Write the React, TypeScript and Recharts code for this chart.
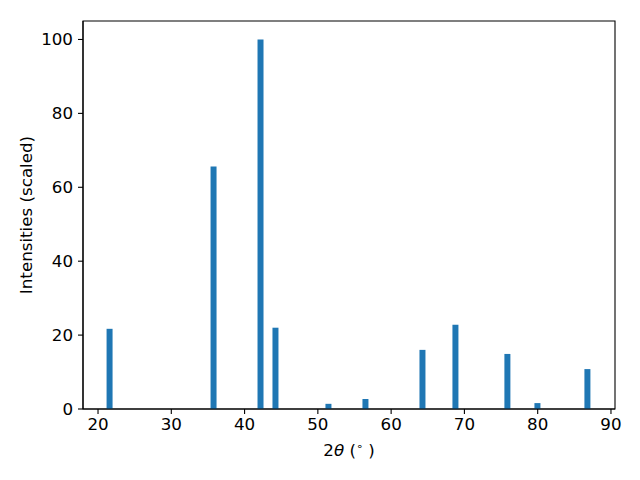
import { Bar, BarChart, ReferenceArea, XAxis, YAxis } from "recharts";

// peak positions (2θ, degrees) and scaled intensities
const twoTheta = [21.64, 35.83, 42.24, 44.28, 51.51, 56.56, 64.34, 68.84, 75.93, 80.03, 86.85];
const intensity = [21.7, 65.6, 100, 22.0, 1.4, 2.7, 16.0, 22.8, 14.9, 1.6, 10.8];

const xTicks = [20, 30, 40, 50, 60, 70, 80, 90];
const yTicks = [0, 20, 40, 60, 80, 100];

const xDomain: [number, number] = [17.95, 90.55];
const yDomain: [number, number] = [0, 105];

const font = "DejaVu Sans, Liberation Sans, sans-serif";
const fs = 16.7;
const tickStyle = { fill: "#000", fontSize: fs, fontFamily: font };
const axisLine = { stroke: "#000", strokeWidth: 1.1 };
const tickLine = { stroke: "#000", strokeWidth: 1.1 };

const peaks = twoTheta.map((x, i) => ({ x, y: intensity[i] }));

function XLabel(props: any) {
  const vb = props.viewBox || {};
  const cx = vb.x + vb.width / 2;
  const cy = vb.y + 47;
  return (
    <text x={cx} y={cy} textAnchor="middle" fill="#000" fontSize={fs} fontFamily={font}>
      <tspan>2</tspan>
      <tspan fontStyle="italic">θ</tspan>
      <tspan> (</tspan>
      <tspan dy={-6} fontSize={11}>∘</tspan>
      <tspan dy={6}> )</tspan>
    </text>
  );
}

function YLabel(props: any) {
  const vb = props.viewBox || {};
  const cx = vb.x + 26;
  const cy = vb.y + vb.height / 2;
  return (
    <text
      x={cx}
      y={cy}
      textAnchor="middle"
      dominantBaseline="central"
      transform={`rotate(-90 ${cx} ${cy})`}
      fill="#000"
      fontSize={fs}
      fontFamily={font}
    >
      Intensities (scaled)
    </text>
  );
}

export default function App() {
  return (
    <div style={{ position: "absolute", left: 0, top: 0, background: "#fff" }}>
      <BarChart
        width={640}
        height={480}
        data={peaks}
        margin={{ top: 21, right: 25, left: 0, bottom: 0 }}
        style={{ fontFamily: font }}
      >
        <XAxis
          dataKey="x"
          type="number"
          domain={xDomain}
          ticks={xTicks}
          allowDataOverflow
          height={71}
          tick={tickStyle}
          tickSize={5}
          tickMargin={4}
          axisLine={axisLine}
          tickLine={tickLine}
          label={{ content: XLabel }}
        />
        <YAxis
          type="number"
          domain={yDomain}
          ticks={yTicks}
          allowDataOverflow
          width={83}
          tick={tickStyle}
          tickSize={5}
          tickMargin={5}
          axisLine={axisLine}
          tickLine={tickLine}
          label={{ content: YLabel }}
        />
        <Bar dataKey="y" barSize={6} fill="#1f77b4" isAnimationActive={false} />
        {/* plot frame (matplotlib spines) */}
        <ReferenceArea
          x1={xDomain[0]}
          x2={xDomain[1]}
          y1={yDomain[0]}
          y2={yDomain[1]}
          fill="none"
          fillOpacity={0}
          stroke="#000"
          strokeWidth={1.1}
          ifOverflow="extendDomain"
        />
      </BarChart>
    </div>
  );
}
